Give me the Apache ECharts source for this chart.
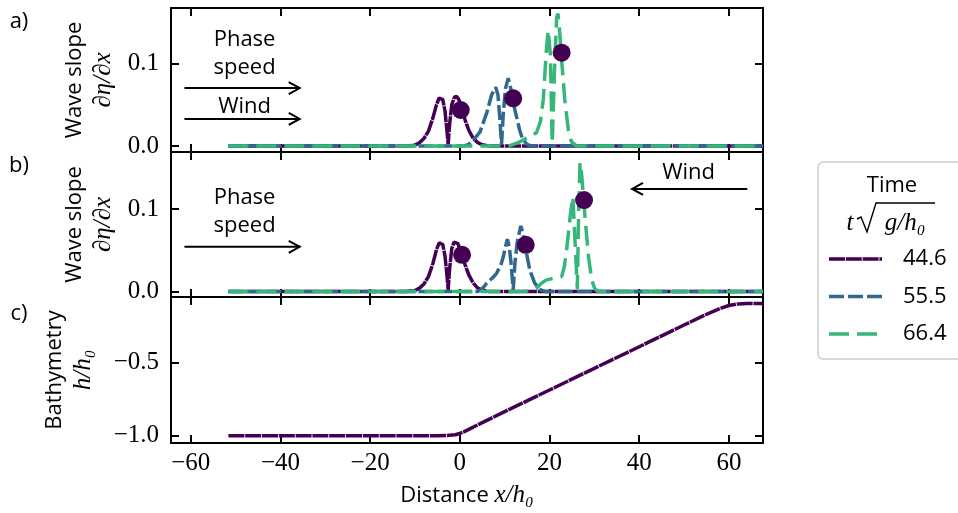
<!DOCTYPE html>
<html>
<head>
<meta charset="utf-8">
<script src="https://cdn.jsdelivr.net/npm/echarts@6/dist/echarts.min.js"></script>
<style>
  html, body { margin: 0; padding: 0; background: #ffffff; }
  #chart { width: 958px; height: 513px; }
</style>
</head>
<body>
<div id="chart"></div>
<script>
// ---- series names and colours (non-dimensional time) ----
const timeLabels = ['44.6', '55.5', '66.4'];
const lineColors = ['#440154', '#31688e', '#35b779'];
const lineDashes = [[16, 0.8], [15, 4], [20, 8]];

// ---- axis ticks ----
const xTicks = [-60, -40, -20, 0, 20, 40, 60];
const slopeTicks = [0, 0.1];
const bathyTicks = [-1, -0.5];

// ---- panel a: wind following the waves ----
const aPurpleX = [-51.6, -12, -10, -9, -8, -7, -6, -5.2, -4.6, -4.2, -3.8, -3.3, -2.9, -2.6, -2.3, -1.8, -1.2, -0.7, -0.2, 0.5, 1.2, 2, 3, 4, 5, 6.5, 67.6];
const aPurpleY = [0, 0, 0.001, 0.004, 0.009, 0.018, 0.034, 0.05, 0.058, 0.0596, 0.056, 0.042, 0.02, 0.002, 0.025, 0.05, 0.059, 0.06, 0.056, 0.044, 0.031, 0.019, 0.009, 0.004, 0.0015, 0, 0];
const aBlueX = [-51.6, 1, 2, 3, 4.5, 6, 7.1, 8, 8.5, 8.9, 9.3, 9.7, 10.2, 10.8, 11.5, 12.1, 12.7, 13.3, 13.9, 14.9, 16, 67.6];
const aBlueY = [0, 0, 0.002, 0.007, 0.017, 0.04, 0.062, 0.071, 0.062, 0.035, 0.002, 0.04, 0.07, 0.082, 0.066, 0.048, 0.034, 0.02, 0.01, 0.002, 0, 0];
const aGreenX = [-51.6, 11, 13, 15, 17.1, 18, 18.6, 19.3, 19.7, 20.2, 20.6, 21.1, 21.6, 21.9, 22.3, 22.7, 23.4, 24.2, 24.9, 26, 67.6];
const aGreenY = [0, 0, 0.004, 0.01, 0.016, 0.03, 0.056, 0.116, 0.14, 0.11, 0.003, 0.09, 0.156, 0.16, 0.135, 0.104, 0.056, 0.019, 0.005, 0, 0];
const aDotX = [0.2, 11.9, 22.7];
const aDotY = [0.0435, 0.0577, 0.1128];

// ---- panel b: wind opposing the waves ----
const bPurpleX = [-51.6, -12, -10, -9, -8, -7, -6, -5.2, -4.6, -4.2, -3.8, -3.3, -2.9, -2.6, -2.3, -1.8, -1.3, -0.9, -0.4, 0.4, 1.2, 2, 3, 4, 5, 6.5, 67.6];
const bPurpleY = [0, 0, 0.001, 0.004, 0.009, 0.018, 0.034, 0.051, 0.059, 0.0607, 0.057, 0.043, 0.021, 0.002, 0.026, 0.052, 0.06, 0.062, 0.058, 0.045, 0.032, 0.02, 0.01, 0.004, 0.0015, 0, 0];
const bBlueX = [-51.6, 4, 5, 6, 7.2, 8.2, 9.2, 9.7, 10.2, 10.6, 11, 11.4, 11.9, 12.3, 12.8, 13.6, 14.1, 14.6, 15.6, 16.7, 17.9, 19, 67.6];
const bBlueY = [0, 0, 0.003, 0.01, 0.016, 0.022, 0.033, 0.042, 0.055, 0.0636, 0.055, 0.036, 0.002, 0.035, 0.06, 0.0797, 0.07, 0.054, 0.026, 0.01, 0.002, 0, 0];
const bGreenX = [-51.6, 14, 16, 17.1, 18.2, 19.3, 21, 22.7, 23.3, 23.8, 24.6, 25.2, 25.7, 26.2, 26.5, 26.8, 27.2, 27.9, 28.7, 29.4, 30.1, 31, 67.6];
const bGreenY = [0, 0, 0.001, 0.004, 0.01, 0.014, 0.016, 0.018, 0.03, 0.05, 0.091, 0.115, 0.06, 0.003, 0.1, 0.1566, 0.14, 0.091, 0.042, 0.014, 0.003, 0, 0];
const bDotX = [0.5, 14.7, 27.7];
const bDotY = [0.0445, 0.0567, 0.111];

// ---- panel c: bottom profile ----
const bathyX = [-51.6, -5, -3, -1, 0, 1, 2, 4, 10, 20, 30, 40, 50, 54, 56, 58, 60, 62, 64, 67.6];
const bathyY = [-1, -1, -0.999, -0.994, -0.985, -0.972, -0.957, -0.926, -0.836, -0.689, -0.541, -0.394, -0.246, -0.187, -0.16, -0.134, -0.113, -0.102, -0.1, -0.1];

const SANS = 'Open Sans';
const SERIF = 'Liberation Serif';
const FS = 22;
const LW = 3.5;

const zip = (xs, ys) => xs.map((x, i) => [x, ys[i]]);
const fmt = v => (Math.abs(v) < 1e-9 ? 0 : v).toFixed(1).replace('-', '\u2212');

const grids = [
  { left: 171, width: 592, top: 8, height: 144 },
  { left: 171, width: 592, top: 152, height: 145 },
  { left: 171, width: 592, top: 297, height: 146 }
];
const yRanges = [[-0.0073, 0.1669], [-0.0068, 0.1695], [-1.05, -0.055]];
const yTickSets = [slopeTicks, slopeTicks, bathyTicks];
const yNameGaps = [54, 54, 74];

const tickCommon = { inside: true, length: 8, lineStyle: { color: '#000', width: 2 } };
const lineCommon = { show: true, onZero: false, lineStyle: { color: '#000', width: 2 } };
const labelFont = { fontFamily: SERIF, fontSize: 25, color: '#000' };

const xAxes = [];
const yAxes = [];
for (let g = 0; g < 3; g++) {
  ['bottom', 'top'].forEach(pos => {
    xAxes.push({
      type: 'value', gridIndex: g, position: pos, min: -64.4, max: 67.6,
      axisLine: lineCommon,
      axisTick: Object.assign({ customValues: xTicks }, tickCommon),
      axisLabel: Object.assign({
        show: g === 2 && pos === 'bottom', customValues: xTicks, margin: 8,
        formatter: v => String(v).replace('-', '\u2212')
      }, labelFont),
      splitLine: { show: false },
      name: g === 2 && pos === 'bottom' ? '{t|Distance }{m|x/h\u2080}' : '',
      nameLocation: 'middle', nameGap: 40,
      nameTextStyle: { rich: {
        t: { fontFamily: SANS, fontSize: FS, color: '#000' },
        m: { fontFamily: SERIF, fontStyle: 'italic', fontSize: 25, color: '#000' }
      } }
    });
  });
  ['left', 'right'].forEach(pos => {
    const isLeft = pos === 'left';
    const nm = g < 2 ? '{t|Wave slope}\n{m|\u2202\u03b7/\u2202x}' : '{t|Bathymetry}\n{m|h/h\u2080}';
    yAxes.push({
      type: 'value', gridIndex: g, position: pos,
      min: yRanges[g][0], max: yRanges[g][1],
      axisLine: lineCommon,
      axisTick: Object.assign({ customValues: yTickSets[g] }, tickCommon),
      axisLabel: Object.assign({ show: isLeft, customValues: yTickSets[g], margin: 12, formatter: fmt }, labelFont),
      splitLine: { show: false },
      name: isLeft ? nm : '',
      nameLocation: 'middle', nameRotate: 90, nameGap: yNameGaps[g],
      nameTextStyle: { rich: {
        t: { fontFamily: SANS, fontSize: FS, color: '#000', lineHeight: 28 },
        m: { fontFamily: SERIF, fontStyle: 'italic', fontSize: 25, color: '#000', lineHeight: 28 }
      } }
    });
  });
}

function waveSeries(g, xs, ys, k) {
  return {
    type: 'line', xAxisIndex: g * 2, yAxisIndex: g * 2, data: zip(xs, ys),
    name: timeLabels[k], showSymbol: false, smooth: false, silent: true,
    lineStyle: { color: lineColors[k], width: LW, type: lineDashes[k] },
    z: 2 + k
  };
}
function dotSeries(g, xs, ys) {
  return {
    type: 'scatter', xAxisIndex: g * 2, yAxisIndex: g * 2, data: zip(xs, ys),
    symbol: 'circle', symbolSize: 18, silent: true,
    itemStyle: { color: lineColors[0], opacity: 1 }, z: 10
  };
}

const series = [
  waveSeries(0, aPurpleX, aPurpleY, 0),
  waveSeries(0, aBlueX, aBlueY, 1),
  waveSeries(0, aGreenX, aGreenY, 2),
  dotSeries(0, aDotX, aDotY),
  waveSeries(1, bPurpleX, bPurpleY, 0),
  waveSeries(1, bBlueX, bBlueY, 1),
  waveSeries(1, bGreenX, bGreenY, 2),
  dotSeries(1, bDotX, bDotY),
  {
    type: 'line', xAxisIndex: 4, yAxisIndex: 4, data: zip(bathyX, bathyY),
    showSymbol: false, silent: true,
    lineStyle: { color: lineColors[0], width: LW, type: lineDashes[0] }
  }
];

const chart = echarts.init(document.getElementById('chart'), null, { renderer: 'canvas' });
chart.setOption({
  animation: false,
  backgroundColor: '#ffffff',
  grid: grids,
  xAxis: xAxes,
  yAxis: yAxes,
  series: series
});

// ---- annotations placed in data coordinates ----
const noteTexts = [
  { g: 0, text: 'Phase', x: -48, y: 0.129 },
  { g: 0, text: 'speed', x: -48, y: 0.095 },
  { g: 0, text: 'Wind', x: -48, y: 0.048 },
  { g: 1, text: 'Phase', x: -48, y: 0.114 },
  { g: 1, text: 'speed', x: -48, y: 0.080 },
  { g: 1, text: 'Wind', x: 51, y: 0.144 }
];
const noteArrows = [
  { g: 0, from: [-61.4, 0.070], to: [-35.7, 0.070] },
  { g: 0, from: [-61.4, 0.0327], to: [-35.7, 0.0327] },
  { g: 1, from: [-61.4, 0.0542], to: [-35.7, 0.0542] },
  { g: 1, from: [64.1, 0.1246], to: [38.4, 0.1246] }
];

const graphics = [];
noteTexts.forEach(n => {
  const p = chart.convertToPixel({ gridIndex: n.g }, [n.x, n.y]);
  graphics.push({ type: 'text', x: p[0], y: p[1], z: 20,
    style: { text: n.text, font: FS + 'px "' + SANS + '"', fill: '#000', align: 'center', verticalAlign: 'middle' } });
});
noteArrows.forEach(a => {
  const p0 = chart.convertToPixel({ gridIndex: a.g }, a.from);
  const p1 = chart.convertToPixel({ gridIndex: a.g }, a.to);
  const dx = p1[0] - p0[0], dy = p1[1] - p0[1];
  const L = Math.hypot(dx, dy), ux = dx / L, uy = dy / L;
  const hl = 11, hw = 6;
  graphics.push({ type: 'line', z: 20, shape: { x1: p0[0], y1: p0[1], x2: p1[0], y2: p1[1] },
    style: { stroke: '#000', lineWidth: 2 } });
  graphics.push({ type: 'polyline', z: 20, shape: { points: [
      [p1[0] - ux * hl - uy * hw, p1[1] - uy * hl + ux * hw],
      [p1[0], p1[1]],
      [p1[0] - ux * hl + uy * hw, p1[1] - uy * hl - ux * hw]
    ] }, style: { stroke: '#000', lineWidth: 2, fill: null } });
});

// panel letters
[['a)', 22], ['b)', 166], ['c)', 314]].forEach(([t, y]) => {
  graphics.push({ type: 'text', x: 19, y: y, z: 20,
    style: { text: t, font: FS + 'px "' + SANS + '"', fill: '#000', align: 'center', verticalAlign: 'middle' } });
});

// legend box
const lg = { x: 818, y: 162, w: 160, h: 197 };
graphics.push({ type: 'rect', z: 15, shape: { x: lg.x, y: lg.y, width: lg.w, height: lg.h, r: 5 },
  style: { fill: '#ffffff', stroke: '#cccccc', lineWidth: 1.5 } });
graphics.push({ type: 'text', x: 892, y: 186, z: 16,
  style: { text: 'Time', font: FS + 'px "' + SANS + '"', fill: '#000', align: 'center', verticalAlign: 'middle' } });
graphics.push({ type: 'text', x: 850, y: 223, z: 16,
  style: { text: 't', font: 'italic 25px "' + SERIF + '"', fill: '#000', align: 'center', verticalAlign: 'middle' } });
// radical sign with its bar over g/h0
graphics.push({ type: 'polyline', z: 16, shape: { points: [
    [857, 219], [861, 217], [867, 232], [876, 203], [935, 203]
  ] }, style: { stroke: '#000', lineWidth: 1.4, fill: null } });
graphics.push({ type: 'text', x: 905, y: 223, z: 16,
  style: { text: 'g/h\u2080', font: 'italic 25px "' + SERIF + '"', fill: '#000', align: 'center', verticalAlign: 'middle' } });
timeLabels.forEach((t, k) => {
  const y = 259 + k * 37.5;
  graphics.push({ type: 'line', z: 16, shape: { x1: 829, y1: y, x2: 882, y2: y },
    style: { stroke: lineColors[k], lineWidth: LW, lineDash: lineDashes[k] } });
  graphics.push({ type: 'text', x: 903, y: y, z: 16,
    style: { text: t, font: FS + 'px "' + SANS + '"', fill: '#000', align: 'left', verticalAlign: 'middle' } });
});

chart.setOption({ graphic: graphics });
</script>
</body>
</html>
